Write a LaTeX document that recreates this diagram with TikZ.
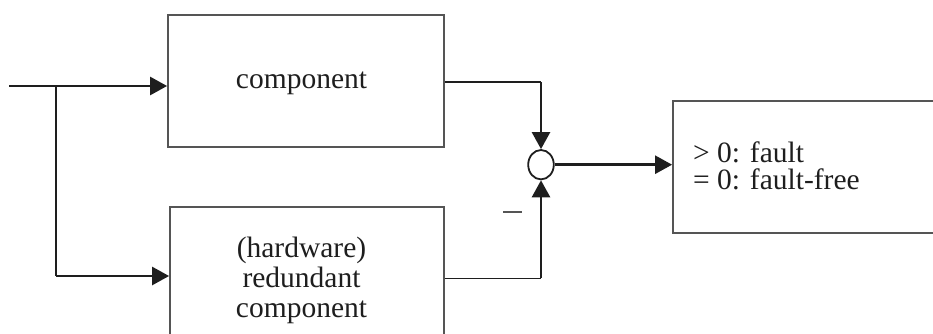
\documentclass[tikz,border=0pt]{standalone}
\usepackage{fontspec}
\setmainfont{Liberation Serif}
\usetikzlibrary{arrows.meta,shapes.geometric}
\definecolor{ink}{HTML}{1E1E1E}
\definecolor{boxgray}{HTML}{555555}
\begin{document}
\begin{tikzpicture}[x=1pt,y=-1pt,
  boxst/.style={draw=boxgray, line width=1.8pt, rectangle, inner sep=0pt},
  conn/.style={draw=ink, line width=2.6pt, -{Triangle[length=17pt,width=18pt]}},
  thinline/.style={draw=ink, line width=1.6pt},
  branch/.style={draw=ink, line width=2.2pt},
  lbl/.style={font=\fontsize{29.5}{30}\selectfont, text=ink, inner sep=0pt}]
\clip (0,0) rectangle (933,334);
% boxes
\node[boxst, minimum width=276pt, minimum height=132pt] (comp) at (306,81) {};
\node[boxst, minimum width=274pt, minimum height=143pt] (red) at (307,278.5) {};
\node[boxst, minimum width=290pt, minimum height=132pt] (res) at (818,167) {};
\node[draw=ink, line width=1.8pt, ellipse, minimum width=25.6pt, minimum height=29.4pt, inner sep=0pt] (sum) at (541,164.7) {};
% texts
\node[lbl, anchor=base] (t1) at (301.5,89) {component};
\node[lbl, align=center, anchor=base] (t2) at (301.5,317) {(hardware)\\redundant\\component};
\node[lbl, font=\fontsize{29.5}{27}\selectfont, align=left, anchor=base west] (t3) at (693,189) {> 0: fault\\= 0: fault-free};
% connectors
\coordinate (in) at (9,86);
\coordinate (br) at (56,86);
\coordinate (low) at (56,276);
\draw[conn] (in) -- (in -| comp.west);
\draw[branch] (br) -- (low);
\draw[conn] (low) -- (low -| red.west);
\coordinate (c1) at (541,82.3);
\coordinate (c2) at (541,278.3);
\draw[thinline] (c1 -| comp.east) -- (c1);
\draw[conn] (c1) -- (sum.north);
\draw[thinline] (c2 -| red.east) -- (c2);
\draw[conn] (c2) -- (sum.south);
\draw[conn] (sum.east) -- (sum.east -| res.west);
% minus sign
\coordinate (m1) at (503,212);
\coordinate (m2) at (522,212);
\draw[draw=boxgray, line width=1.4pt] (m1) -- (m2);
\end{tikzpicture}
\end{document}
